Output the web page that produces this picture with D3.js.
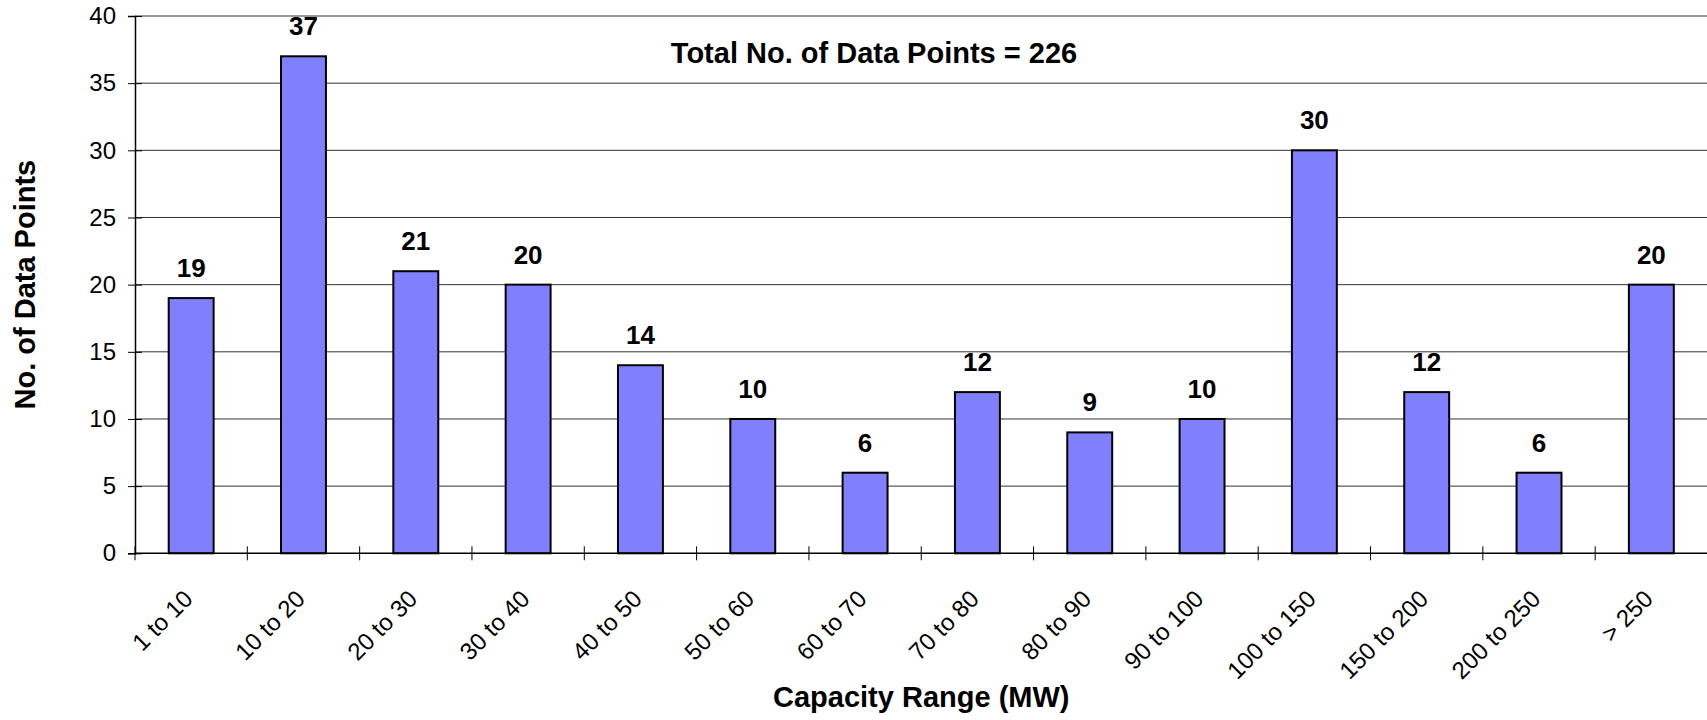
<!DOCTYPE html>
<html>
<head>
<meta charset="utf-8">
<script src="https://cdn.jsdelivr.net/npm/d3@7"></script>
<style>
  body { margin: 0; background: #fff; }
  svg { display: block; font-family: "Liberation Sans", Arial, sans-serif; }
  .grid line { stroke: #333; stroke-width: 1; }
  .bar { fill: #8080ff; stroke: #000; stroke-width: 2; }
  .val { font-size: 26px; font-weight: bold; text-anchor: middle; }
  .title { font-size: 29px; font-weight: bold; text-anchor: middle; }
</style>
</head>
<body>
<svg width="1707" height="720"></svg>
<script>
const width = 1707, height = 720;

const categories = ["1 to 10", "10 to 20", "20 to 30", "30 to 40", "40 to 50", "50 to 60", "60 to 70",
    "70 to 80", "80 to 90", "90 to 100", "100 to 150", "150 to 200", "200 to 250", "> 250"];
const counts = [19, 37, 21, 20, 14, 10, 6, 12, 9, 10, 30, 12, 6, 20];
const yTicks = [0, 5, 10, 15, 20, 25, 30, 35, 40];
const totalLabel = "Total No. of Data Points = 226";

const plotLeft = 135, plotRight = 1707.5, plotTop = 16, plotBottom = 553.3;

const svg = d3.select("svg");

const x = d3.scaleBand()
    .domain(categories)
    .range([plotLeft, plotRight])
    .paddingInner(0.6)
    .paddingOuter(0.3);

const y = d3.scaleLinear()
    .domain([0, 40])
    .range([plotBottom, plotTop]);

const step = x.step();

// horizontal gridlines
svg.append("g")
    .attr("class", "grid")
    .selectAll("line")
    .data(yTicks.filter(d => d > 0))
    .enter().append("line")
    .attr("x1", plotLeft)
    .attr("x2", width)
    .attr("y1", d => y(d))
    .attr("y2", d => y(d));

// bars
svg.append("g")
    .selectAll("rect")
    .data(counts)
    .enter().append("rect")
    .attr("class", "bar")
    .attr("x", (d, i) => x(categories[i]))
    .attr("width", x.bandwidth())
    .attr("y", d => y(d))
    .attr("height", d => y(0) - y(d));

// value labels
svg.append("g")
    .selectAll("text")
    .data(counts)
    .enter().append("text")
    .attr("class", "val")
    .attr("x", (d, i) => x(categories[i]) + x.bandwidth() / 2)
    .attr("y", d => y(d) - 21)
    .text(d => d);

// y axis
const yAxis = d3.axisLeft(y)
    .tickValues(yTicks)
    .tickSize(7)
    .tickPadding(12);

const gy = svg.append("g")
    .attr("transform", `translate(${plotLeft},0)`)
    .call(yAxis);
gy.attr("font-size", 24).attr("font-family", "Liberation Sans, Arial, sans-serif");
gy.select(".domain").attr("stroke", "#000").attr("stroke-width", 1.5);
gy.selectAll(".tick line").attr("x2", 7).attr("x1", -7).attr("stroke-width", 1);
gy.selectAll(".tick text").attr("fill", "#000");

// x axis: baseline and ticks at category boundaries
const bounds = d3.range(categories.length + 1).map(i => plotLeft + i * step);
svg.append("line")
    .attr("x1", plotLeft).attr("x2", width)
    .attr("y1", plotBottom).attr("y2", plotBottom)
    .attr("stroke", "#000").attr("stroke-width", 1.5);

svg.append("g")
    .selectAll("line")
    .data(bounds)
    .enter().append("line")
    .attr("x1", d => d).attr("x2", d => d)
    .attr("y1", plotBottom - 7).attr("y2", plotBottom + 7)
    .attr("stroke", "#000").attr("stroke-width", 1);

svg.append("g")
    .attr("font-size", 24)
    .selectAll("text")
    .data(categories)
    .enter().append("text")
    .attr("transform", d => `translate(${x(d) + x.bandwidth() / 2 + 3},${plotBottom + 47}) rotate(-45)`)
    .attr("text-anchor", "end")
    .text(d => d);

// titles
svg.append("text")
    .attr("class", "title")
    .attr("x", 874)
    .attr("y", 62.5)
    .text(totalLabel);

svg.append("text")
    .attr("class", "title")
    .attr("x", (plotLeft + plotRight) / 2)
    .attr("y", 706.5)
    .text("Capacity Range (MW)");

svg.append("text")
    .attr("class", "title")
    .attr("transform", `translate(35,${(plotTop + plotBottom) / 2}) rotate(-90)`)
    .text("No. of Data Points");
</script>
</body>
</html>
